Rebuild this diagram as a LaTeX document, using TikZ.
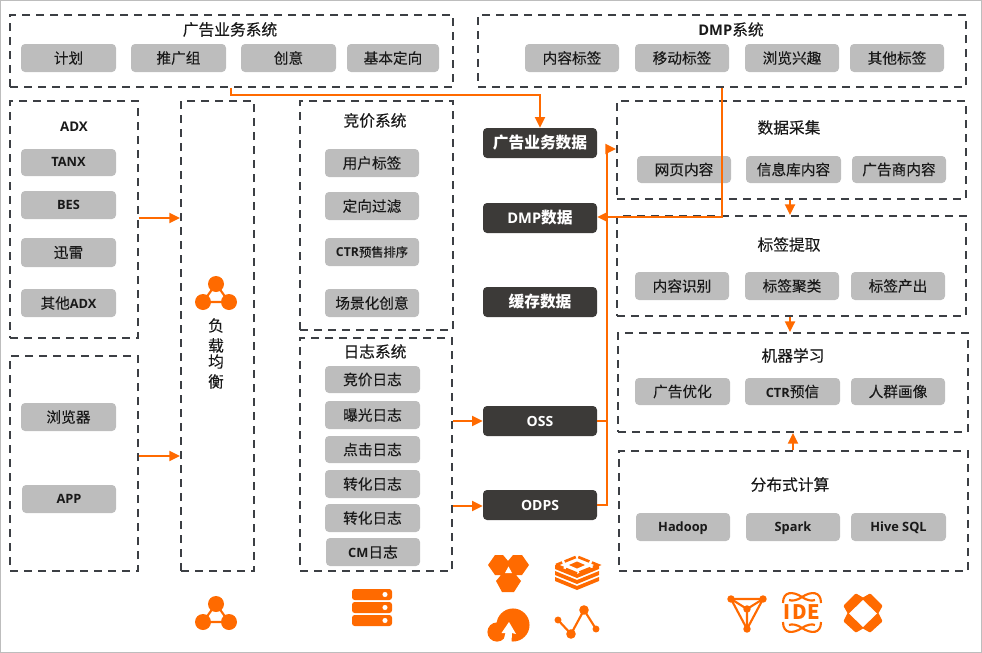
\documentclass[tikz,border=0pt]{standalone}
\usepackage{fontspec}
\setmainfont[FakeBold=0.15,BoldFeatures={FakeBold=0}]{Noto Sans CJK SC}
\newfontfamily\lat{Open Sans}
\definecolor{org}{HTML}{FF6A00}
\definecolor{dk}{HTML}{3C3A38}
\definecolor{gr}{HTML}{BDBDBD}
\definecolor{dsh}{HTML}{3C3F44}
\usetikzlibrary{arrows.meta}
\newcommand\ltb[1]{{\lat\bfseries #1}}
\newcommand\lts[1]{{\fontsize{9.6}{12}\selectfont\lat\bfseries #1}}
\newcommand\ltm[1]{{\fontsize{11}{12}\selectfont\lat\bfseries #1}}
\newcommand\dn[1]{\raisebox{0pt}[6.7pt][0pt]{#1}}
\tikzset{
 x=0.75pt,y=-0.75pt,
 dbox/.style={draw=dsh,line width=1.4pt,dash pattern=on 6pt off 4.5pt,rectangle,inner sep=0pt},
 gbox/.style={fill=gr,rounded corners=3pt,inner sep=0pt,font=\fontsize{11}{12}\selectfont,text=black!90},
 kbox/.style={fill=dk,rounded corners=3pt,inner sep=0pt,text=white,font=\fontsize{11.8}{13}\selectfont\bfseries},
 ttl/.style={inner sep=0pt,font=\fontsize{11.8}{13}\selectfont,text=black!90},
 conn/.style={draw=org,line width=1.5pt},
 arr/.style={conn,-{Triangle[length=8pt,width=7.5pt]}},
 ico/.style={fill=org,draw=none},
 icol/.style={draw=org,line width=1.6pt},
 bf/.style={font=\fontsize{9.6}{12}\selectfont},
}
\newcommand\bx[7]{\node[#1,minimum width={(#5-#3)*0.75pt},minimum height={(#6-#4)*0.75pt}] (#2) at ({(#3+#5)/2},{(#4+#6)/2}) {#7};}
\begin{document}
\begin{tikzpicture}
\useasboundingbox (0,0) rectangle (982,653);
\draw[gr,line width=0.75pt] (0.5,0.5) rectangle (981.5,652.5);
% dashed
\bx{dbox}{ad}{10}{15}{453}{87}{}
\bx{dbox}{dm}{478}{15}{966}{87}{}
\bx{dbox}{adx}{10}{101}{138}{338}{}
\bx{dbox}{cli}{10}{356}{138}{571}{}
\bx{dbox}{lb}{181}{101}{254}{571}{}
\bx{dbox}{bid}{300}{101}{453}{330}{}
\bx{dbox}{log}{300}{338}{452}{571}{}
\bx{dbox}{col}{617}{101}{966}{199}{}
\bx{dbox}{tag}{617}{216}{966}{316}{}
\bx{dbox}{ml}{618}{333}{968}{432}{}
\bx{dbox}{dc}{619}{451}{968}{571}{}
% titles
\node[ttl] (t1) at (230,29.5) {广告业务系统};
\node[ttl] (t2) at (731,29.5) {\ltm{DMP}系统};
\node[ttl,font=\fontsize{10}{12}\selectfont] (t3) at (74,126.5) {\ltb{ADX}};
\node[ttl] (t4) at (375,120.5) {竞价系统};
\node[ttl] (t5) at (375,351.5) {日志系统};
\node[ttl] (t6) at (789,127.5) {数据采集};
\node[ttl] (t7) at (789,244.5) {标签提取};
\node[ttl] (t8) at (793,355.5) {机器学习};
\node[ttl] (t9) at (790,484.5) {分布式计算};
\node[ttl] (t10) at (216,325.5) {负};
\node[ttl] (t11) at (216,345.5) {载};
\node[ttl] (t12) at (216,361.5) {均};
\node[ttl] (t13) at (216,381.5) {衡};
% gray
\bx{gbox}{a1}{21}{44}{116}{72}{计划}
\bx{gbox}{a2}{131}{44}{226}{72}{推广组}
\bx{gbox}{a3}{241}{44}{336}{72}{创意}
\bx{gbox}{a4}{347}{44}{439}{72}{基本定向}
\bx{gbox}{d1}{525}{44}{619}{72}{内容标签}
\bx{gbox}{d2}{635}{44}{729}{72}{移动标签}
\bx{gbox}{d3}{745}{44}{839}{72}{浏览兴趣}
\bx{gbox}{d4}{850}{44}{944}{72}{其他标签}
\bx{gbox,bf}{x1}{21}{149}{116}{176}{\dn{\ltb{TANX}}}
\bx{gbox,bf}{x2}{21}{191}{116}{219}{\dn{\ltb{BES}}}
\bx{gbox}{x3}{21}{238}{116}{267}{迅雷}
\bx{gbox}{x4}{21}{289}{116}{317}{其他\lts{ADX}}
\bx{gbox}{c1}{21}{403}{116}{431}{浏览器}
\bx{gbox,bf}{c2}{22}{485}{116}{513}{\dn{\ltb{APP}}}
\bx{gbox}{b1}{325}{149}{419}{177}{用户标签}
\bx{gbox}{b2}{325}{192}{419}{220}{定向过滤}
\bx{gbox,font=\fontsize{9.2}{12}\selectfont}{b3}{325}{238}{419}{266}{\ltb{CTR}预售排序}
\bx{gbox}{b4}{325}{289}{419}{317}{场景化创意}
\bx{gbox}{l1}{325}{366}{420}{393}{竞价日志}
\bx{gbox}{l2}{325}{401}{420}{429}{曝光日志}
\bx{gbox}{l3}{325}{436}{420}{463}{点击日志}
\bx{gbox}{l4}{325}{470}{420}{498}{转化日志}
\bx{gbox}{l5}{325}{504}{420}{532}{转化日志}
\bx{gbox}{l6}{326}{538}{420}{566}{\lts{CM}日志}
\bx{gbox}{r1}{637}{156}{731}{183}{网页内容}
\bx{gbox}{r2}{746}{156}{841}{183}{信息库内容}
\bx{gbox}{r3}{852}{156}{946}{183}{广告商内容}
\bx{gbox}{g1}{635}{272}{729}{300}{内容识别}
\bx{gbox}{g2}{745}{272}{839}{300}{标签聚类}
\bx{gbox}{g3}{851}{272}{945}{300}{标签产出}
\bx{gbox}{m1}{635}{378}{730}{405}{广告优化}
\bx{gbox}{m2}{745}{378}{840}{405}{\lts{CTR}预信}
\bx{gbox}{m3}{851}{378}{945}{405}{人群画像}
\bx{gbox,bf}{s1}{636}{513}{730}{541}{\dn{\ltb{Hadoop}}}
\bx{gbox,bf}{s2}{746}{513}{840}{541}{\dn{\ltb{Spark}}}
\bx{gbox,bf}{s3}{851}{513}{946}{541}{\dn{\ltb{Hive SQL}}}
% dark
\bx{kbox}{k1}{483}{128}{597}{158}{广告业务数据}
\bx{kbox}{k2}{483}{203}{597}{233}{\ltm{DMP}数据}
\bx{kbox}{k3}{483}{287}{597}{317}{缓存数据}
\bx{kbox,font=\fontsize{10.5}{13}\selectfont}{k4}{483}{406}{597}{436}{\ltb{OSS}}
\bx{kbox,font=\fontsize{10.5}{13}\selectfont}{k5}{483}{490}{597}{520}{\ltb{ODPS}}
% connectors
\coordinate (j1) at (231,95);
\coordinate (j2) at (722,217);
\coordinate (j3) at (607,149);
\draw[arr] (ad.south -| j1) -- (j1) -- (j1 -| k1) -- (k1.north);
\draw[arr] (dm.south -| j2) -- (j2) -- (j2 -| k2.east);
\draw[arr] (k5.east) -- (k5.east -| j3) -- (j3) -- (j3 -| col.west);
\draw[conn] (k4.east) -- (k4.east -| j3);
\coordinate (y1) at (0,218); \coordinate (y2) at (0,456);
\coordinate (y3) at (0,421); \coordinate (y4) at (0,506);
\draw[arr] (y1 -| adx.east) -- (y1 -| lb.west);
\draw[arr] (y2 -| cli.east) -- (y2 -| lb.west);
\draw[arr] (y3 -| log.east) -- (y3 -| k4.west);
\draw[arr] (y4 -| log.east) -- (y4 -| k5.west);
\coordinate (x1c) at (790,0); \coordinate (x2c) at (793,0);
\draw[arr] (col.south -| x1c) -- (tag.north -| x1c);
\draw[arr] (tag.south -| x1c) -- (ml.north -| x1c);
\draw[arr] (dc.north -| x2c) -- (ml.south -| x2c);
% LB icons
\foreach \dy in {0,320}{
 \begin{scope}[yshift={-0.75pt*\dy}]
 \draw[icol] (216,284) -- (203,302) -- (229,302) -- cycle;
 \fill[ico] (216,284) circle (6pt) (203,302) circle (6pt) (229,302) circle (6pt);
 \end{scope}}
% server
\foreach \yy in {589,602,615}{
 \fill[ico,rounded corners=2pt] (352,\yy) rectangle (392,\yy+11);
 \fill[white] (385,\yy+5.5) circle (1.9pt);}
% hex cluster
\fill[ico] (488,565) -- (495,555) -- (503,555) -- (508,561) -- (513,555) -- (522,555) -- (529,565) -- (522,575) -- (516,575) -- (521,581) -- (514,592) -- (502,592) -- (496,581) -- (501,575) -- (495,575) -- cycle;
\fill[white] (505,573) -- (512,573) -- (508.5,566.5) -- cycle;
% layers
\foreach \o in {565,571,577}{
 \fill[ico] (555,\o) -- (577,{\o+9}) -- (599,\o) -- (599,{\o+4}) -- (577,{\o+13}) -- (555,{\o+4}) -- cycle;}
\draw[org,line width=2pt,dash pattern=on 9pt off 2pt,dash phase=4pt] (556,565) -- (577,556.5) -- (598,565) -- (577,573.5) -- cycle;
\fill[ico] (569,565) -- (577,561.5) -- (585,565) -- (577,568.5) -- cycle;
% cloud
\fill[ico] (513,625) circle (12.4pt);
\fill[ico] (497,632) circle (7.2pt);
\fill[white] (509,622) -- (516,634) -- (512,633) -- (511.5,642) -- (503,642) -- (505.5,633) -- (501.5,633) -- cycle;
% line chart
\draw[icol] (558,620) -- (571,634) -- (584,610) -- (596,629);
\fill[ico] (558,620) circle (2.6pt) (571,634) circle (3.6pt) (584,610) circle (3.6pt) (596,629) circle (2.6pt);
% tri
\draw[icol] (731,599) -- (763,599) -- (747,629) -- cycle;
\draw[icol] (731,599) -- (747,609) -- (763,599) (747,609) -- (747,629);
\fill[ico] (731,599) circle (2.8pt) (763,599) circle (2.8pt) (747,629) circle (2.8pt) (747,609) circle (2.8pt);
% IDE
\node[inner sep=0pt,text=org,font=\fontsize{15}{15}\selectfont\bfseries] (ide) at (802,612.5) {I\kern1pt D\kern0.5pt E};
\draw[icol] (783,603) .. controls (783,591) and (793,591) .. (802,597) .. controls (808,601) and (812,601) .. (815,600);
\draw[icol] (821,603) .. controls (821,591) and (811,591) .. (802,597) .. controls (796,601) and (792,601) .. (789,600);
\draw[icol] (783,622) .. controls (783,634) and (793,634) .. (802,628) .. controls (808,624) and (812,624) .. (815,625);
\draw[icol] (821,622) .. controls (821,634) and (811,634) .. (802,628) .. controls (796,624) and (792,624) .. (789,625);
% diamond
\fill[ico,draw=org,line width=2pt,line join=round] (856,595) -- (863,599) -- (870,595) -- (881,606) -- (877,613) -- (881,621) -- (870,631) -- (863,627) -- (856,631) -- (845,621) -- (849,613) -- (845,606) -- cycle;
\fill[white] (863,600) -- (877,613.5) -- (863,627) -- (849,613.5) -- cycle;
\end{tikzpicture}
\end{document}
